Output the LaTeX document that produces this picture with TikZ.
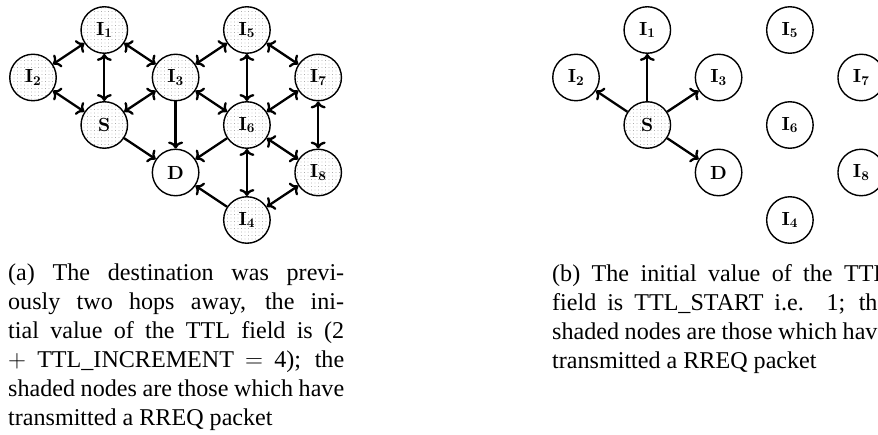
\documentclass[tikz,border=0pt]{standalone}
\usepackage{fontspec}
\newfontfamily\capfont{Liberation Serif}
\newfontface\nodebf{lmroman10-bold}[Extension=.otf]
\usetikzlibrary{arrows.meta,patterns.meta}

% fine grey dot fill for nodes that have sent a packet
\pgfdeclarepattern{
  name=nodedots,
  bottom left={\pgfpoint{-0.6pt}{-0.6pt}},
  top right={\pgfpoint{0.6pt}{0.6pt}},
  tile size={\pgfpoint{3.5pt}{3.5pt}},
  code={\pgfpathcircle{\pgfpointorigin}{0.45pt}\pgfusepath{fill}}
}

\newcommand{\relaylabel}[1]{I\textsubscript{#1}}

\tikzset{
  net/.style={circle, draw, line width=1.4pt, minimum size=46.5pt, inner sep=0pt,
    font=\nodebf\fontsize{19}{22}\selectfont},
  sent/.style={net, pattern=nodedots, pattern color=black!50},
  link/.style={line width=2.3pt},
  capt/.style={anchor=base west, inner sep=0pt, text width=336pt, align=justify,
    font=\capfont\fontsize{24.1}{28.9}\selectfont}
}

\begin{document}
\begin{tikzpicture}[x=1pt, y=-1pt,
  >={Computer Modern Rightarrow[length=7pt,width=15pt]}]
\useasboundingbox (0,0) rectangle (878,435);
\clip (0,0) rectangle (878,435);

% ---- (a) expanding ring search, TTL = 4 ----
\node[sent] (a1) at (104.3, 30)  {\relaylabel{1}};
\node[sent] (a2) at (33,    77.5) {\relaylabel{2}};
\node[sent] (aS) at (104.3, 125) {S};
\node[sent] (a3) at (175.6, 77.5) {\relaylabel{3}};
\node[net]  (aD) at (175.6, 172.5) {D};
\node[sent] (a5) at (246.9, 30)  {\relaylabel{5}};
\node[sent] (a6) at (246.9, 125) {\relaylabel{6}};
\node[sent] (a7) at (318.2, 77.5) {\relaylabel{7}};
\node[sent] (a8) at (318.2, 172.5) {\relaylabel{8}};
\node[sent] (a4) at (246.9, 220) {\relaylabel{4}};

\draw[link,<->] (a1) -- (a2);
\draw[link,<->] (a1) -- (aS);
\draw[link,<->] (a1) -- (a3);
\draw[link,<->] (a2) -- (aS);
\draw[link,<->] (aS) -- (a3);
\draw[link,->]  (aS) -- (aD);
\draw[link,->]  (a3) -- (aD);
\draw[link,<->] (a3) -- (a5);
\draw[link,<->] (a3) -- (a6);
\draw[link,<->] (a5) -- (a6);
\draw[link,<->] (a5) -- (a7);
\draw[link,<->] (a7) -- (a6);
\draw[link,<->] (a7) -- (a8);
\draw[link,->]  (a6) -- (aD);
\draw[link,<->] (a6) -- (a8);
\draw[link,<->] (a6) -- (a4);
\draw[link,->]  (a4) -- (aD);
\draw[link,<->] (a4) -- (a8);

\node[capt] (capa) at (8, 280.7) {(a) The destination was previ-\linebreak
ously two hops away, the ini-\linebreak
tial value of the TTL field is (2\linebreak
$+$ TTL\_INCREMENT $=$ 4); the\linebreak
shaded nodes are those which have\linebreak
transmitted a RREQ packet};

% ---- (b) first attempt, TTL = 1 ----
\node[net]  (b1) at (647.3, 30)  {\relaylabel{1}};
\node[net]  (b2) at (576,   77.5) {\relaylabel{2}};
\node[sent] (bS) at (647.3, 125) {S};
\node[net]  (b3) at (718.6, 77.5) {\relaylabel{3}};
\node[net]  (bD) at (718.6, 172.5) {D};
\node[net]  (b5) at (789.9, 30)  {\relaylabel{5}};
\node[net]  (b6) at (789.9, 125) {\relaylabel{6}};
\node[net]  (b7) at (861.2, 77.5) {\relaylabel{7}};
\node[net]  (b8) at (861.2, 172.5) {\relaylabel{8}};
\node[net]  (b4) at (789.9, 220) {\relaylabel{4}};

\draw[link,->] (bS) -- (b1);
\draw[link,->] (bS) -- (b2);
\draw[link,->] (bS) -- (b3);
\draw[link,->] (bS) -- (bD);

\node[capt] (capb) at (552, 281.5) {(b) The initial value of the TTL\linebreak
field is TTL\_START i.e. 1; the\linebreak
shaded nodes are those which have\linebreak
transmitted a RREQ packet};
\end{tikzpicture}
\end{document}
